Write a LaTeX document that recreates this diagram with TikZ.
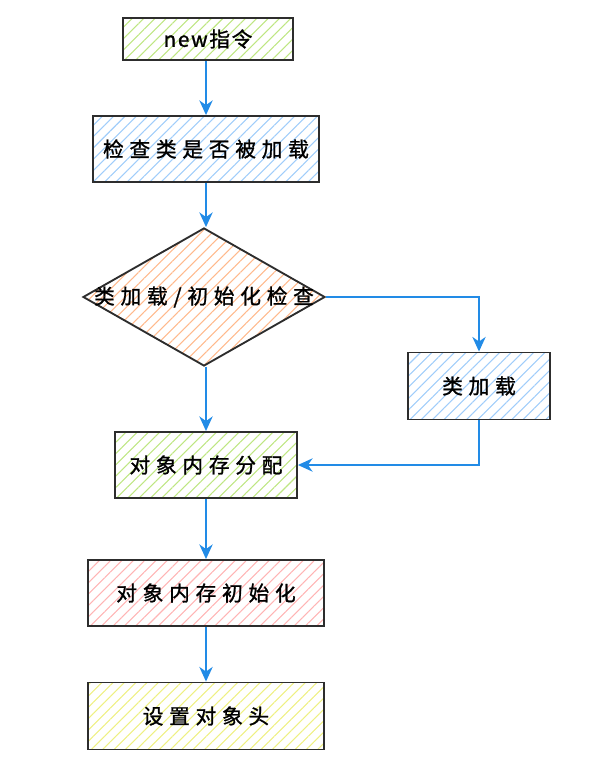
\documentclass[tikz,border=0pt]{standalone}
\usepackage{fontspec}
\setmainfont[LetterSpace=28,FakeBold=1.2]{Noto Sans CJK SC}
\newfontfamily\plainfont[LetterSpace=8,FakeBold=1.2]{Noto Sans CJK SC}
\usetikzlibrary{arrows.meta,positioning,shapes.geometric,patterns.meta}
\definecolor{flowblue}{RGB}{34,139,230}
\definecolor{boxgray}{RGB}{45,45,45}
\definecolor{hatchlime}{RGB}{190,230,130}
\definecolor{hatchblue}{RGB}{160,205,250}
\definecolor{hatchorange}{RGB}{255,185,140}
\definecolor{hatchpink}{RGB}{255,180,180}
\definecolor{hatchyellow}{RGB}{238,240,130}

\begin{document}
\begin{tikzpicture}[x=0.75pt, y=-0.75pt,
    every node/.style={font=\fontsize{15.5}{18}\selectfont},
    box/.style={draw=boxgray, line width=1.4pt, inner sep=0pt, minimum height=49.5pt},
    hatch/.style={pattern={Lines[angle=45,distance=6pt,line width=0.8pt]}, pattern color=#1},
    flow/.style={-{Stealth[length=11pt,width=10pt,inset=3.5pt]}, flowblue, line width=1.2pt}]
  \useasboundingbox (0,0) rectangle (596,773);
  % Boxes
  \node[box, hatch=hatchlime, minimum width=128pt, minimum height=31.5pt] (new) at (208,39) {\plainfont new指令};
  \node[box, hatch=hatchblue, minimum width=169.5pt] (check) at (206,149) {检查类是否被加载};
  \node[diamond, draw=boxgray, line width=1.4pt, inner sep=0pt, hatch=hatchorange,
        minimum width=181.5pt, minimum height=103.5pt,
        label=center:{类加载/初始化检查}] (decide) at (204,297) {};
  \node[box, hatch=hatchblue, minimum width=106.5pt, minimum height=50.25pt] (load) at (479,386) {类加载};
  \node[box, hatch=hatchlime, minimum width=136.5pt] (alloc) at (206,465) {对象内存分配};
  \node[box, hatch=hatchpink, minimum width=177pt] (init) at (206,593) {对象内存初始化};
  \node[box, hatch=hatchyellow, minimum width=177pt, minimum height=50.25pt] (head) at (206,716) {设置对象头};
  % Arrows
  \foreach \a/\b in {alloc/init, init/head} {
    \draw[flow] (\a) -- (\b);
  }
  \draw[flow] (check.north |- new.south) -- (check.north);
  \draw[flow] (check.south) -- (check.south |- decide.north);
  \draw[flow] (decide.south -| alloc.north) -- (alloc.north);
  \draw[flow] (decide.east) -| (load.north);
  \draw[flow] (load.south) |- (alloc.east);
\end{tikzpicture}
\end{document}
